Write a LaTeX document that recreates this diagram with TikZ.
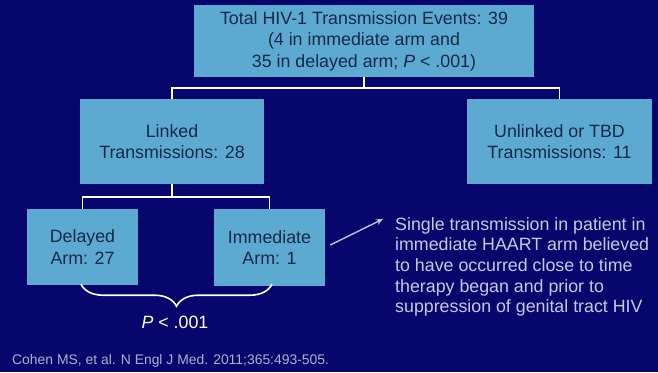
\documentclass[tikz,border=0pt]{standalone}
\usepackage{fontspec}
\setmainfont{Liberation Sans}
\usetikzlibrary{decorations.pathreplacing,arrows.meta}
\definecolor{slidebg}{RGB}{6,6,108}
\definecolor{boxfill}{RGB}{92,170,210}
\definecolor{boxtext}{RGB}{22,40,72}
\definecolor{notetext}{RGB}{200,200,226}
\definecolor{citetext}{RGB}{175,175,205}

\begin{document}
\begin{tikzpicture}[x=1pt,y=-1pt,
  box/.style={fill=boxfill,text=boxtext,align=center,inner sep=0pt,
    font=\fontsize{17.8}{21.5}\selectfont},
  link/.style={white,line width=1.6pt},
  note/.style={text=notetext,align=left,inner sep=0pt,
    font=\fontsize{17.8}{20.7}\selectfont}]
\fill [slidebg] (0,0) rectangle (658,372);
\useasboundingbox (0,0) rectangle (658,372);
% boxes
\node [box,minimum width=340,minimum height=72] (total) at (364,41)
  {Total HIV-1 Transmission Events: 39\\(4 in immediate arm and\\35 in delayed arm; \textit{P} < .001)};
\node [box,minimum width=184,minimum height=85] (linked) at (172,141.5)
  {Linked\\Transmissions: 28};
\node [box,minimum width=185,minimum height=85] (unlinked) at (559.5,141.5)
  {Unlinked or TBD\\Transmissions: 11};
\node [box,minimum width=111,minimum height=76] (delayed) at (82.5,247)
  {Delayed\\Arm: 27};
\node [box,minimum width=111,minimum height=77] (immediate) at (269.5,247.5)
  {Immediate\\Arm: 1};
% tree lines
\draw [link] (total.south) -- ++(0,11) -| (linked.north);
\draw [link] (total.south) -- ++(0,11) -| (unlinked.north);
\draw [link] (linked.south) -- ++(0,13) -| (delayed.north);
\draw [link] (linked.south) -- ++(0,13) -| (immediate.north);
% brace and p value
\coordinate (bl) at ([xshift=-1.5,yshift=1]delayed.south);
\coordinate (br) at ([xshift=2.5]bl -| immediate.south);
\draw [link,decorate,decoration={brace,mirror,amplitude=22pt}] (bl) -- (br);
\node [text=white,font=\fontsize{17.8}{20}\selectfont] (pval) at (175,322) {\textit{P} < .001};
% note
\node [note,anchor=north west] (note) at (395,217)
  {Single transmission in patient in\\immediate HAART arm believed\\to have occurred close to time\\therapy began and prior to\\suppression of genital tract HIV};
\coordinate (tip) at (383,219);
\draw [notetext!90!gray,line width=1.4pt,-{Stealth[length=7pt,width=6pt]}]
  ([xshift=5,yshift=2.5]immediate.east) -- (tip);
% source
\node [text=citetext,anchor=west,inner sep=0pt,font=\fontsize{13.9}{16}\selectfont] (cite) at (12,361)
  {Cohen MS, et al. N Engl J Med. 2011;365:493-505.};
\end{tikzpicture}
\end{document}
